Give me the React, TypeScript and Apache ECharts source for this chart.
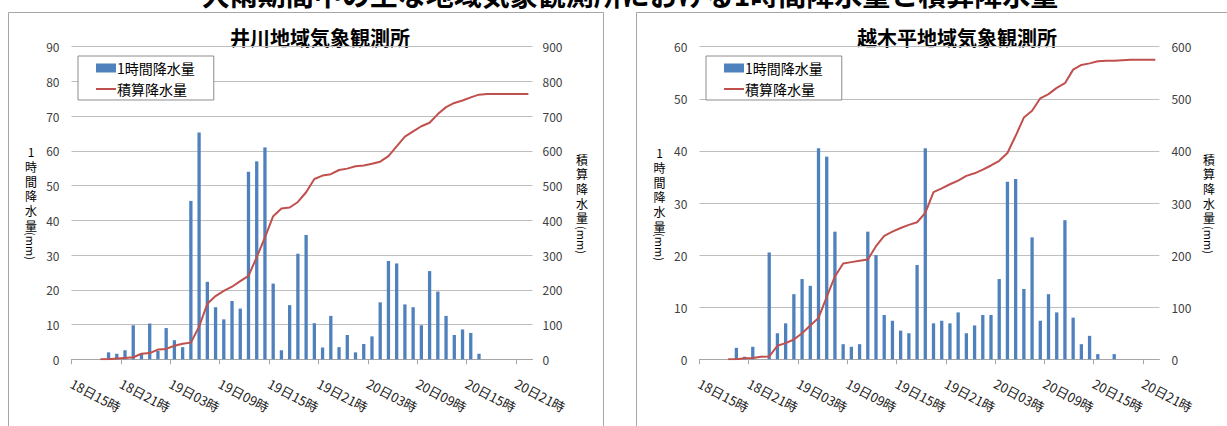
import React, { useEffect, useRef } from 'react';
import * as echarts from 'echarts';

const categories = [
  '18日15時', '18日16時', '18日17時', '18日18時', '18日19時', '18日20時', '18日21時', '18日22時', '18日23時',
  '19日00時', '19日01時', '19日02時', '19日03時', '19日04時', '19日05時', '19日06時', '19日07時', '19日08時',
  '19日09時', '19日10時', '19日11時', '19日12時', '19日13時', '19日14時', '19日15時', '19日16時', '19日17時',
  '19日18時', '19日19時', '19日20時', '19日21時', '19日22時', '19日23時',
  '20日00時', '20日01時', '20日02時', '20日03時', '20日04時', '20日05時', '20日06時', '20日07時', '20日08時',
  '20日09時', '20日10時', '20日11時', '20日12時', '20日13時', '20日14時', '20日15時', '20日16時', '20日17時',
  '20日18時', '20日19時', '20日20時', '20日21時', '20日22時',
];

const tickLabels = ['18日15時', '18日21時', '19日03時', '19日09時', '19日15時', '19日21時', '20日03時', '20日09時', '20日15時', '20日21時'];

// 井川地域気象観測所
const igawaHourly = [
  null, null, null, null,
  2, 1.6, 2.6, 9.8, 1.6, 10.3, 2.4, 9, 5.5, 3.5,
  45.6, 65.3, 22.3, 15, 11.5, 16.8, 14.6, 54, 57, 61,
  21.8, 2.6, 15.6, 30.4, 35.8, 10.4, 3.4, 12.5, 3.5, 7,
  2, 4.4, 6.6, 16.4, 28.3, 27.6, 15.8, 15, 9.8, 25.4,
  19.5, 12.5, 7, 8.6, 7.6, 1.6,
  null, null, null, null, null, null,
];
const igawaTotal = [
  null, null, null, 0,
  0, 2, 4, 6, 16, 18, 28, 30, 39, 45,
  48, 94, 160, 182, 197, 209, 225, 240, 294, 351,
  412, 434, 437, 453, 481, 519, 529, 533, 545, 549,
  556, 558, 563, 569, 585, 613, 641, 656, 671, 681,
  706, 726, 738, 745, 754, 762, 764, 764, 764, 764, 764, 764,
];

// 越木平地域気象観測所
const koshikiHourly = [
  null, null, null, null,
  2.2, 0.5, 2.4, null, 20.5, 5, 6.9, 12.5, 15.4, 14.1,
  40.5, 38.9, 24.5, 2.9, 2.4, 2.9, 24.5, 20, 8.5, 7.4,
  5.5, 5, 18.1, 40.5, 6.9, 7.4, 6.9, 9, 5, 6.5,
  8.5, 8.5, 15.4, 34.1, 34.6, 13.5, 23.4, 7.4, 12.5, 9,
  26.7, 8, 2.9, 4.5, 1, null, 1, null, null, null, null, null,
];
const koshikiTotal = [
  null, null, null, 0,
  0, 2, 2.7, 5, 5.5, 26, 31, 38, 50, 65,
  79.5, 120, 159, 184, 186.5, 189, 191.5, 217, 237, 245,
  252, 258, 263, 281, 321, 328, 336, 343, 352, 357,
  364, 372, 381, 396, 429, 464, 477, 501, 509, 521,
  530, 556, 565, 568, 572, 573, 573, 574, 575, 575, 575, 575,
];

const hourlyAxisName = ['1', '時', '間', '降', '水', '量'];
const totalAxisName = ['積', '算', '降', '水', '量'];

const FONT = '"Noto Sans CJK JP", "Noto Sans", sans-serif';
const BLUE = '#4F81BD';
const RED = '#C0504D';
const GRID_COLOR = '#BFBFBF';
const AXIS_COLOR = '#A6A6A6';

function buildOption() {
  const mainX = (gridIndex: number) => ({
    type: 'category',
    gridIndex,
    data: categories,
    boundaryGap: true,
    axisLine: { show: true, lineStyle: { color: AXIS_COLOR, width: 1 } },
    axisTick: { show: false },
    axisLabel: { show: false },
    splitLine: { show: false },
  });
  const labelX = (gridIndex: number) => ({
    type: 'value',
    gridIndex,
    min: 0,
    max: 54,
    interval: 6,
    axisLine: { show: false },
    axisTick: { show: true, length: 5, lineStyle: { color: AXIS_COLOR } },
    axisLabel: {
      rotate: -28,
      margin: 23,
      fontSize: 13,
      color: '#1a1a1a',
      fontFamily: FONT,
      formatter: (v: number) => tickLabels[Math.round(v / 6)] ?? '',
    },
    splitLine: { show: false },
  });
  const yAx = (gridIndex: number, position: string, max: number, interval: number, split: boolean, margin: number) => ({
    type: 'value',
    gridIndex,
    position,
    min: 0,
    max,
    interval,
    axisLine: { show: false },
    axisTick: { show: false },
    axisLabel: { fontSize: 12, color: '#404040', fontFamily: FONT, margin },
    splitLine: { show: split, lineStyle: { color: GRID_COLOR, width: 1 } },
  });
  const legend = (left: number) => ({
    left,
    top: 56,
    orient: 'vertical',
    backgroundColor: '#fff',
    borderColor: '#8c8c8c',
    borderWidth: 1,
    padding: [5, 19, 4, 17],
    itemWidth: 20,
    itemHeight: 9,
    itemGap: 7,
    selectedMode: false,
    textStyle: { fontSize: 14, color: '#000', fontFamily: FONT, padding: [0, 0, 0, -4] },
    data: [
      { name: '1時間降水量', icon: 'rect' },
      { name: '積算降水量', itemStyle: { opacity: 0, color: 'rgba(0,0,0,0)', borderWidth: 0 }, lineStyle: { color: RED, width: 2 } },
    ],
  });
  const stacked = (x: number, y0: number, chars: string[], step: number) =>
    chars.map((c, i) => ({
      type: 'text',
      x,
      y: y0 + i * step,
      style: { text: c, font: `12px ${FONT}`, fill: '#000', align: 'center', verticalAlign: 'middle', lineHeight: 12 },
    }));
  const mm = (x: number, y: number) => ({
    type: 'text',
    x,
    y,
    rotation: -Math.PI / 2,
    style: { text: '(mm)', font: `11px ${FONT}`, fill: '#000', align: 'center', verticalAlign: 'middle', lineHeight: 11 },
  });
  const title = (x: number, text: string) => ({
    type: 'text',
    x,
    y: 37,
    style: { text, font: `bold 20px ${FONT}`, fill: '#000', align: 'center', verticalAlign: 'middle' },
  });

  return {
    animation: false,
    backgroundColor: '#fff',
    grid: [
      { left: 71.5, top: 46.7, width: 461, height: 312.6, outerBoundsMode: 'none' },
      { left: 699.4, top: 46.7, width: 460, height: 312.6, outerBoundsMode: 'none' },
      { left: 71.5, top: 46.7, width: 444.5, height: 312.6, outerBoundsMode: 'none' },
      { left: 699.4, top: 46.7, width: 443.6, height: 312.6, outerBoundsMode: 'none' },
    ],
    xAxis: [mainX(0), mainX(1), labelX(2), labelX(3)],
    yAxis: [
      yAx(0, 'left', 90, 10, true, 12),
      yAx(0, 'right', 900, 100, false, 10),
      yAx(1, 'left', 60, 10, true, 12),
      yAx(1, 'right', 600, 100, false, 12),
      { type: 'value', gridIndex: 2, show: false, min: 0, max: 1 },
      { type: 'value', gridIndex: 3, show: false, min: 0, max: 1 },
    ],
    legend: [legend(78), legend(706)],
    series: [
      { name: '1時間降水量', type: 'bar', xAxisIndex: 0, yAxisIndex: 0, data: igawaHourly, barWidth: 3.3, itemStyle: { color: BLUE } },
      { name: '積算降水量', type: 'line', xAxisIndex: 0, yAxisIndex: 1, data: igawaTotal, symbol: 'none', lineStyle: { color: RED, width: 2 }, itemStyle: { color: RED } },
      { name: '1時間降水量', type: 'bar', xAxisIndex: 1, yAxisIndex: 2, data: koshikiHourly, barWidth: 3.3, itemStyle: { color: BLUE } },
      { name: '積算降水量', type: 'line', xAxisIndex: 1, yAxisIndex: 3, data: koshikiTotal, symbol: 'none', lineStyle: { color: RED, width: 2 }, itemStyle: { color: RED } },
    ],
    graphic: [
      { type: 'rect', shape: { x: 8.5, y: 12.5, width: 595, height: 430 }, style: { fill: 'none', stroke: '#A6A6A6', lineWidth: 1 }, z: -1 },
      { type: 'rect', shape: { x: 636.5, y: 12.5, width: 610, height: 430 }, style: { fill: 'none', stroke: '#A6A6A6', lineWidth: 1 }, z: -1 },
      {
        type: 'text', x: 630, y: 8,
        style: { text: '大雨期間中の主な地域気象観測所における1時間降水量と積算降水量', font: `bold 28px ${FONT}`, fill: '#000', align: 'center', verticalAlign: 'bottom' },
      },
      title(320, '井川地域気象観測所'),
      title(957, '越木平地域気象観測所'),
      ...stacked(31, 151.7, hourlyAxisName, 14.7),
      mm(31, 246),
      ...stacked(582, 159, totalAxisName, 14.7),
      mm(582, 240),
      ...stacked(659.5, 152.7, hourlyAxisName, 14.7),
      mm(659.5, 247),
      ...stacked(1209, 159, totalAxisName, 14.7),
      mm(1209, 240),
    ],
  };
}

export default function App() {
  const ref = useRef<HTMLDivElement>(null);
  useEffect(() => {
    if (!ref.current) return;
    const chart = echarts.init(ref.current, undefined, { renderer: 'svg' });
    chart.setOption(buildOption() as any);
    return () => chart.dispose();
  }, []);
  return (
    <div
      ref={ref}
      style={{ position: 'absolute', left: 0, top: 0, width: 1227, height: 426, background: '#fff' }}
    />
  );
}
